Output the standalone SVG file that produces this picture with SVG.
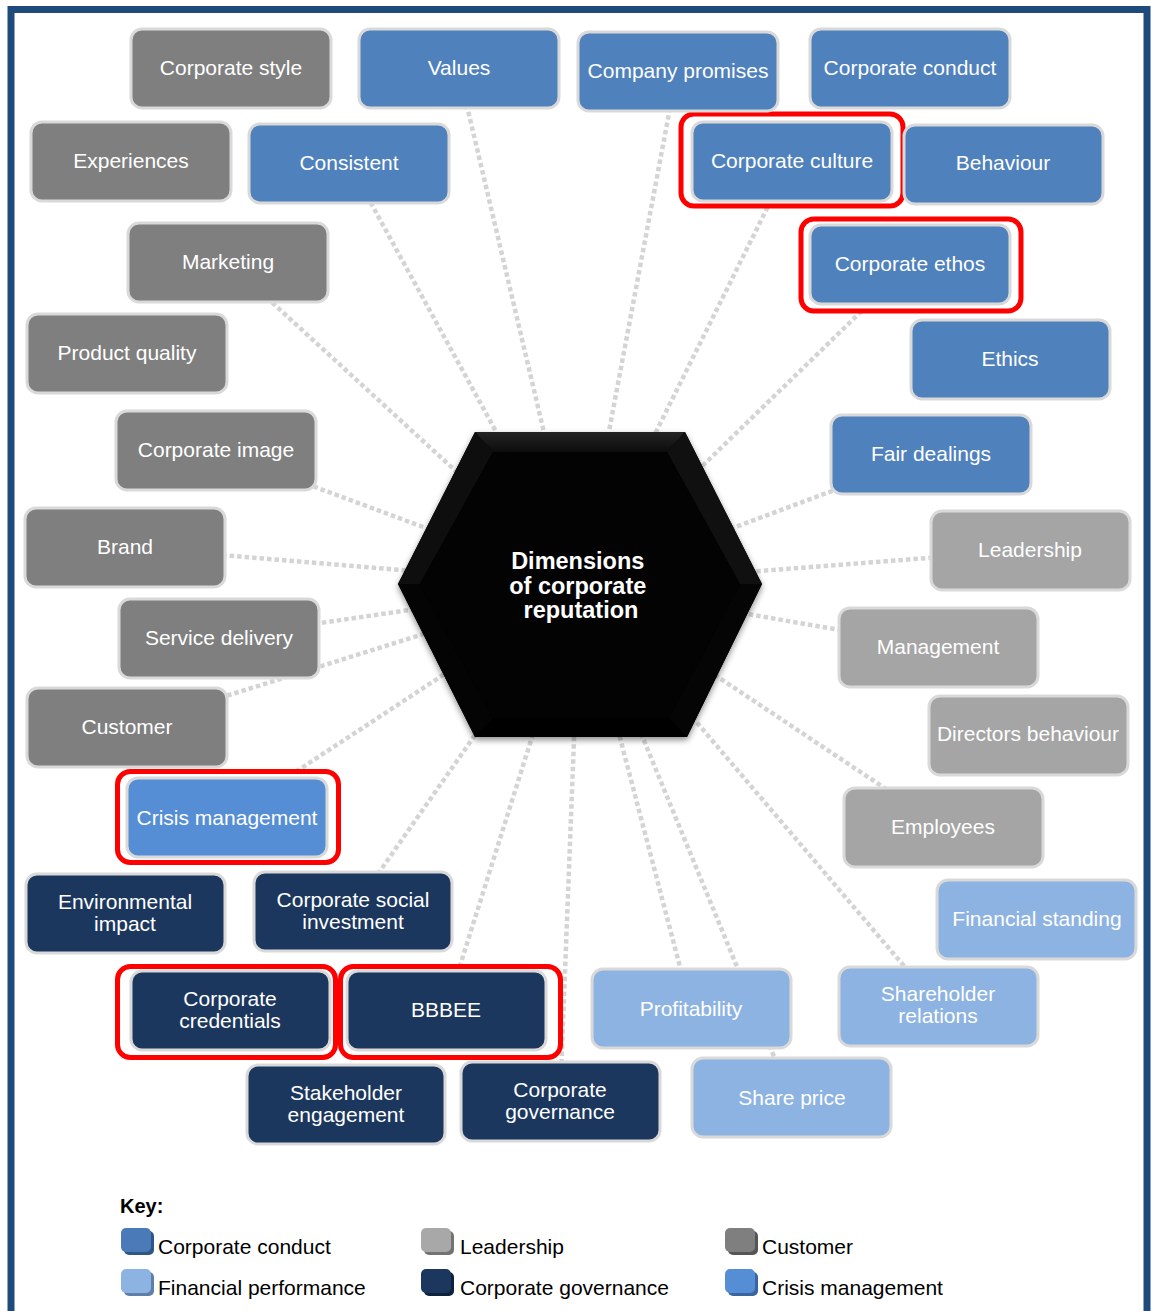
<svg xmlns="http://www.w3.org/2000/svg" width="1151" height="1311" viewBox="0 0 1151 1311">
<defs>
<style>
.n rect{stroke:#d9d9d9;stroke-width:3}
.t{font-family:"Liberation Sans",Arial,sans-serif;font-size:21px;fill:#fff;text-anchor:middle}
.cu rect{fill:#7f7f7f}
.cc rect{fill:#4f81bd}
.le rect{fill:#a5a5a5}
.fp rect{fill:#8db3e2}
.cg rect{fill:#1c375e}
.cm rect{fill:#558ed5}
.hl{fill:#fff;stroke:#ff0000;stroke-width:5}
#connectors line{stroke:#d4d4d4;stroke-width:4.5;stroke-dasharray:4.5 3;fill:none}
.k{font-family:"Liberation Sans",Arial,sans-serif;font-size:21px;fill:#000}
</style>
<filter id="sh" x="-10%" y="-10%" width="120%" height="125%">
<feDropShadow dx="0" dy="3" stdDeviation="3" flood-color="#000" flood-opacity="0.45"/>
</filter>
<linearGradient id="topb" x1="0" y1="0" x2="0" y2="1">
<stop offset="0" stop-color="#242424"/><stop offset="1" stop-color="#0c0c0c"/>
</linearGradient>
</defs>
<rect width="1151" height="1311" fill="#fff"/>
<path d="M11,1311 V9.5 H1147 V1311" fill="none" stroke="#1f4a7c" stroke-width="7"/>

<g id="connectors">
<line x1="458" y1="68" x2="580" y2="585"/>
<line x1="349" y1="163" x2="580" y2="585"/>
<line x1="228" y1="262" x2="580" y2="585"/>
<line x1="677" y1="71" x2="580" y2="585"/>
<line x1="791" y1="160" x2="580" y2="585"/>
<line x1="910" y1="264" x2="580" y2="585"/>
<line x1="931" y1="454" x2="580" y2="585"/>
<line x1="1030" y1="550" x2="580" y2="585"/>
<line x1="938" y1="647" x2="580" y2="585"/>
<line x1="943" y1="827" x2="580" y2="585"/>
<line x1="938" y1="1006" x2="580" y2="585"/>
<line x1="691" y1="1009" x2="580" y2="585"/>
<line x1="791" y1="1098" x2="580" y2="585"/>
<line x1="560" y1="1101" x2="580" y2="585"/>
<line x1="446" y1="1010" x2="580" y2="585"/>
<line x1="352" y1="911" x2="580" y2="585"/>
<line x1="227" y1="817" x2="580" y2="585"/>
<line x1="127" y1="727" x2="580" y2="585"/>
<line x1="218" y1="638" x2="580" y2="585"/>
<line x1="125" y1="547" x2="580" y2="585"/>
<line x1="215" y1="450" x2="580" y2="585"/>
</g>

<g id="hub">
<g filter="url(#sh)">
<polygon points="475,432 685,432 762,584 687,737 475,737 398,584" fill="#000"/>
</g>
<polygon points="475,432 685,432 667,452 493,452" fill="url(#topb)"/>
<polygon points="475,432 493,452 420,584 398,584" fill="#0e0e0e"/>
<polygon points="685,432 762,584 740,584 667,452" fill="#101010"/>
<polygon points="398,584 420,584 493,718 475,737" fill="#040404"/>
<polygon points="762,584 687,737 669,718 740,584" fill="#050505"/>
<polygon points="493,452 667,452 740,584 669,718 493,718 420,584" fill="#030303"/>
<text font-family="'Liberation Sans',Arial,sans-serif" font-size="23.5" font-weight="bold" fill="#fff" text-anchor="middle">
<tspan x="581" y="569">Dimensions</tspan>
<tspan x="581" y="594">of corporate</tspan>
<tspan x="581" y="618">reputation</tspan>
</text>
</g>

<g id="highlights">
<rect class="hl" x="681" y="114" width="222" height="92" rx="13"/>
<rect class="hl" x="801" y="219" width="220" height="92" rx="13"/>
<rect class="hl" x="117.5" y="771.5" width="221" height="91" rx="13"/>
<rect class="hl" x="117.5" y="966.5" width="218" height="91" rx="13"/>
<rect class="hl" x="340.5" y="966.5" width="220" height="91" rx="13"/>
</g>

<g id="n-corporate-style" class="n cu"><rect x="131" y="29" width="200" height="79" rx="11"/><text class="t" x="231" y="75">Corporate style</text></g>
<g id="n-experiences" class="n cu"><rect x="31" y="122" width="200" height="79" rx="11"/><text class="t" x="131" y="168">Experiences</text></g>
<g id="n-marketing" class="n cu"><rect x="128" y="223" width="200" height="79" rx="11"/><text class="t" x="228" y="269">Marketing</text></g>
<g id="n-product-quality" class="n cu"><rect x="27" y="314" width="200" height="79" rx="11"/><text class="t" x="127" y="360">Product quality</text></g>
<g id="n-corporate-image" class="n cu"><rect x="116" y="411" width="200" height="79" rx="11"/><text class="t" x="216" y="457">Corporate image</text></g>
<g id="n-brand" class="n cu"><rect x="25" y="508" width="200" height="79" rx="11"/><text class="t" x="125" y="554">Brand</text></g>
<g id="n-service-delivery" class="n cu"><rect x="119" y="599" width="200" height="79" rx="11"/><text class="t" x="219" y="645">Service delivery</text></g>
<g id="n-customer" class="n cu"><rect x="27" y="688" width="200" height="79" rx="11"/><text class="t" x="127" y="734">Customer</text></g>

<g id="n-values" class="n cc"><rect x="359" y="29" width="200" height="79" rx="11"/><text class="t" x="459" y="75">Values</text></g>
<g id="n-consistent" class="n cc"><rect x="249" y="124" width="200" height="79" rx="11"/><text class="t" x="349" y="170">Consistent</text></g>
<g id="n-company-promises" class="n cc"><rect x="578" y="32" width="200" height="79" rx="11"/><text class="t" x="678" y="78">Company promises</text></g>
<g id="n-corporate-conduct" class="n cc"><rect x="810" y="29" width="200" height="79" rx="11"/><text class="t" x="910" y="75">Corporate conduct</text></g>
<g id="n-corporate-culture" class="n cc"><rect x="692" y="122" width="200" height="79" rx="11"/><text class="t" x="792" y="168">Corporate culture</text></g>
<g id="n-behaviour" class="n cc"><rect x="904" y="125" width="199" height="79" rx="11"/><text class="t" x="1003" y="170">Behaviour</text></g>
<g id="n-corporate-ethos" class="n cc"><rect x="810" y="225" width="200" height="79" rx="11"/><text class="t" x="910" y="271">Corporate ethos</text></g>
<g id="n-ethics" class="n cc"><rect x="911" y="320" width="199" height="79" rx="11"/><text class="t" x="1010" y="366">Ethics</text></g>
<g id="n-fair-dealings" class="n cc"><rect x="831" y="415" width="200" height="79" rx="11"/><text class="t" x="931" y="461">Fair dealings</text></g>

<g id="n-leadership" class="n le"><rect x="931" y="511" width="199" height="79" rx="11"/><text class="t" x="1030" y="557">Leadership</text></g>
<g id="n-management" class="n le"><rect x="839" y="608" width="199" height="79" rx="11"/><text class="t" x="938" y="654">Management</text></g>
<g id="n-directors-behaviour" class="n le"><rect x="929" y="696" width="199" height="79" rx="11"/><text class="t" x="1028" y="741">Directors behaviour</text></g>
<g id="n-employees" class="n le"><rect x="844" y="788" width="199" height="79" rx="11"/><text class="t" x="943" y="834">Employees</text></g>

<g id="n-financial-standing" class="n fp"><rect x="937" y="880" width="199" height="79" rx="11"/><text class="t" x="1037" y="926">Financial standing</text></g>
<g id="n-shareholder-relations" class="n fp"><rect x="839" y="967" width="199" height="79" rx="11"/><text class="t" x="938"><tspan x="938" y="1001">Shareholder</tspan><tspan x="938" y="1023">relations</tspan></text></g>
<g id="n-profitability" class="n fp"><rect x="592" y="969" width="199" height="79" rx="11"/><text class="t" x="691" y="1016">Profitability</text></g>
<g id="n-share-price" class="n fp"><rect x="692" y="1058" width="199" height="79" rx="11"/><text class="t" x="792" y="1105">Share price</text></g>

<g id="n-crisis-management" class="n cm"><rect x="127" y="778" width="200" height="79" rx="11"/><text class="t" x="227" y="825">Crisis management</text></g>

<g id="n-environmental-impact" class="n cg"><rect x="26" y="874" width="199" height="79" rx="11"/><text class="t"><tspan x="125" y="909">Environmental</tspan><tspan x="125" y="931">impact</tspan></text></g>
<g id="n-corporate-social-investment" class="n cg"><rect x="254" y="872" width="198" height="79" rx="11"/><text class="t"><tspan x="353" y="907">Corporate social</tspan><tspan x="353" y="929">investment</tspan></text></g>
<g id="n-corporate-credentials" class="n cg"><rect x="131" y="971" width="199" height="79" rx="11"/><text class="t"><tspan x="230" y="1006">Corporate</tspan><tspan x="230" y="1028">credentials</tspan></text></g>
<g id="n-bbbee" class="n cg"><rect x="347" y="971" width="199" height="79" rx="11"/><text class="t" x="446" y="1017">BBBEE</text></g>
<g id="n-stakeholder-engagement" class="n cg"><rect x="247" y="1065" width="198" height="79" rx="11"/><text class="t"><tspan x="346" y="1100">Stakeholder</tspan><tspan x="346" y="1122">engagement</tspan></text></g>
<g id="n-corporate-governance" class="n cg"><rect x="461" y="1062" width="199" height="79" rx="11"/><text class="t"><tspan x="560" y="1097">Corporate</tspan><tspan x="560" y="1119">governance</tspan></text></g>

<g id="key">
<text x="120" y="1213" font-family="'Liberation Sans',Arial,sans-serif" font-size="20" font-weight="bold" fill="#000">Key:</text>
<rect x="124" y="1231" width="30" height="24" rx="5" fill="#2f5688"/>
<rect x="121" y="1228" width="30" height="24" rx="5" fill="#4a7ab8"/>
<text class="k" x="158" y="1254">Corporate conduct</text>
<rect x="424" y="1231" width="30" height="24" rx="5" fill="#737373"/>
<rect x="421" y="1228" width="30" height="24" rx="5" fill="#a8a8a8"/>
<text class="k" x="460" y="1254">Leadership</text>
<rect x="728" y="1231" width="30" height="24" rx="5" fill="#555"/>
<rect x="725" y="1228" width="30" height="24" rx="5" fill="#7f7f7f"/>
<text class="k" x="762" y="1254">Customer</text>
<rect x="124" y="1272" width="30" height="24" rx="5" fill="#5f7fa8"/>
<rect x="121" y="1269" width="30" height="24" rx="5" fill="#8db3e2"/>
<text class="k" x="158" y="1295">Financial performance</text>
<rect x="424" y="1272" width="30" height="24" rx="5" fill="#0f223d"/>
<rect x="421" y="1269" width="30" height="24" rx="5" fill="#1c375e"/>
<text class="k" x="460" y="1295">Corporate governance</text>
<rect x="728" y="1272" width="30" height="24" rx="5" fill="#3a66a0"/>
<rect x="725" y="1269" width="30" height="24" rx="5" fill="#558ed5"/>
<text class="k" x="762" y="1295">Crisis management</text>
</g>
</svg>
